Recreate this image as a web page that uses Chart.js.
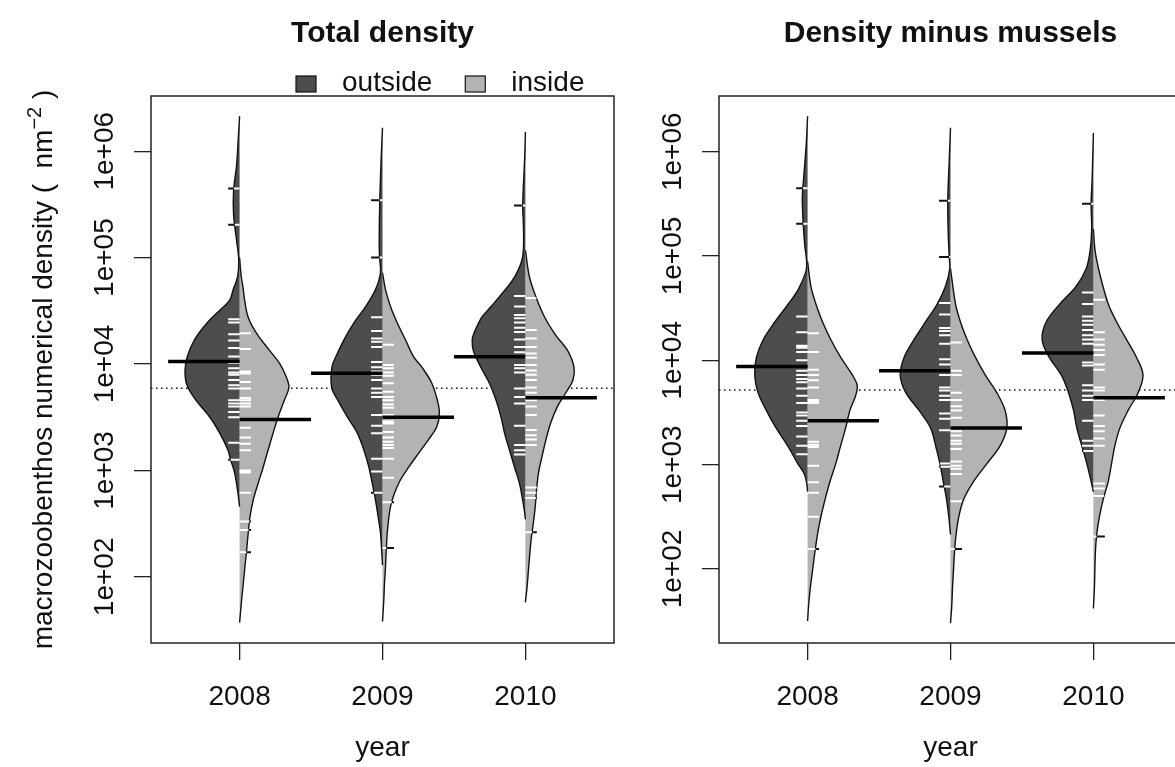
<!DOCTYPE html>
<html>
<head>
<meta charset="utf-8">
<script src="https://cdn.jsdelivr.net/npm/chart.js@4.4.1/dist/chart.umd.min.js"></script>
<style>
  html, body { margin: 0; padding: 0; background: #fff; overflow: hidden; }
  body { width: 1175px; height: 767px; position: relative; }
  canvas { position: absolute; top: 0; }
  #totalChart { left: 0; }
  #musselChart { left: 568px; }
</style>
</head>
<body>
<canvas id="totalChart" width="640" height="767"></canvas>
<canvas id="musselChart" width="640" height="767"></canvas>
<script>
const years = ['2008', '2009', '2010'];
const yTickValues = [1e2, 1e3, 1e4, 1e5, 1e6];
const yTickLabels = ['1e+02', '1e+03', '1e+04', '1e+05', '1e+06'];
const groups = ['outside', 'inside'];
const groupColors = ['#4d4d4d', '#b3b3b3'];

// ---- Total density ----
// bean outlines: log10(density) levels with the half-width of the bean there (x units)
const totOutLevels = [
  [6.33, 6.10, 5.87, 5.63, 5.40, 5.16, 4.98, 4.82, 4.70, 4.60, 4.51, 4.39, 4.23, 4.07, 3.94, 3.80, 3.66, 3.50, 3.35, 3.19, 3.10, 2.98, 2.79, 2.66],
  [6.22, 5.94, 5.54, 5.16, 5.01, 4.86, 4.70, 4.54, 4.39, 4.23, 4.07, 3.97, 3.78, 3.66, 3.50, 3.35, 3.19, 3.03, 2.88, 2.72, 2.56, 2.41, 2.16, 2.11],
  [6.18, 5.94, 5.49, 5.32, 5.07, 4.95, 4.82, 4.70, 4.54, 4.44, 4.29, 4.23, 4.13, 3.97, 3.82, 3.66, 3.50, 3.35, 3.19, 3.03, 2.88, 2.72, 2.60, 2.54]
];
const totOutWidths = [
  [0, .010, .021, .042, .042, .021, .006, .014, .045, .069, .135, .225, .315, .366, .382, .368, .306, .208, .139, .081, .063, .035, .012, 0],
  [0, .009, .019, .023, .021, .014, .049, .118, .199, .269, .326, .354, .356, .313, .245, .176, .130, .095, .072, .049, .030, .014, .002, 0],
  [0, .005, .019, .014, .014, .030, .075, .140, .240, .305, .360, .372, .365, .312, .252, .205, .170, .146, .111, .076, .042, .019, .005, 0]
];
const totInLevels = [
  [5.00, 4.84, 4.70, 4.60, 4.44, 4.29, 4.13, 4.01, 3.88, 3.78, 3.66, 3.50, 3.35, 3.19, 3.03, 2.88, 2.72, 2.56, 2.41, 2.25, 2.09, 1.94, 1.78, 1.57],
  [4.86, 4.70, 4.54, 4.39, 4.23, 4.07, 3.97, 3.82, 3.66, 3.54, 3.41, 3.29, 3.16, 3.03, 2.91, 2.79, 2.66, 2.47, 2.25, 2.09, 1.94, 1.78, 1.58],
  [5.07, 4.82, 4.63, 4.44, 4.27, 4.13, 3.97, 3.85, 3.73, 3.60, 3.45, 3.29, 3.13, 2.98, 2.82, 2.66, 2.51, 2.35, 2.09, 1.91, 1.76]
];
const totInWidths = [
  [0, .010, .026, .035, .060, .118, .208, .278, .326, .345, .313, .269, .234, .199, .165, .130, .095, .072, .060, .049, .037, .026, .014, 0],
  [0, .021, .056, .102, .160, .217, .276, .345, .384, .398, .380, .322, .252, .183, .125, .085, .056, .037, .026, .021, .014, .009, 0],
  [0, .028, .074, .135, .213, .294, .340, .333, .283, .224, .178, .144, .116, .092, .078, .069, .056, .040, .023, .012, 0]
];
// single samples, log10(density)
const totOutObs = [
  [5.65, 5.31, 4.42, 4.39, 4.28, 4.22, 4.15, 4.07, 4.01, 3.96, 3.92, 3.90, 3.85, 3.80, 3.77, 3.66, 3.63, 3.60, 3.55, 3.50, 3.26, 3.10],
  [5.54, 5.00, 4.44, 4.31, 4.24, 4.21, 4.16, 4.02, 3.97, 3.93, 3.90, 3.85, 3.77, 3.73, 3.69, 3.52, 3.42, 3.35, 3.11, 2.99, 2.79],
  [5.49, 4.64, 4.54, 4.46, 4.43, 4.39, 4.34, 4.30, 4.23, 4.16, 4.11, 4.07, 3.99, 3.96, 3.92, 3.77, 3.69, 3.63, 3.42, 3.24, 3.19, 3.15]
];
const totInObs = [
  [4.29, 4.14, 3.93, 3.91, 3.83, 3.77, 3.68, 3.66, 3.63, 3.60, 3.40, 3.31, 3.25, 3.19, 3.00, 2.98, 2.79, 2.52, 2.44, 2.23],
  [4.18, 3.99, 3.96, 3.92, 3.89, 3.82, 3.74, 3.69, 3.66, 3.62, 3.59, 3.52, 3.46, 3.44, 3.36, 3.31, 3.27, 3.24, 3.21, 3.11, 2.93, 2.70, 2.27],
  [4.62, 4.32, 4.24, 4.16, 4.10, 4.06, 3.99, 3.94, 3.90, 3.85, 3.78, 3.73, 3.66, 3.60, 3.52, 3.38, 3.33, 3.29, 3.24, 2.84, 2.79, 2.74, 2.42]
];
const totOutMean = [10550, 8180, 11700];
const totInMean = [3010, 3160, 4830];
const totOverall = 5920;
const totRange = [10 ** 1.378, 10 ** 6.519];

// ---- Density minus mussels ----
const musOutLevels = [
  [6.34, 6.08, 5.74, 5.56, 5.29, 5.09, 4.95, 4.85, 4.68, 4.54, 4.37, 4.20, 4.03, 3.86, 3.69, 3.52, 3.35, 3.18, 3.01, 2.91, 2.81, 2.74],
  [6.23, 5.91, 5.53, 5.22, 4.99, 4.88, 4.71, 4.54, 4.37, 4.20, 4.03, 3.86, 3.69, 3.52, 3.35, 3.18, 3.01, 2.84, 2.67, 2.50, 2.33],
  [6.18, 5.73, 5.50, 5.26, 5.05, 4.88, 4.71, 4.54, 4.37, 4.20, 4.03, 3.86, 3.69, 3.52, 3.35, 3.18, 3.01, 2.84, 2.74]
];
const musOutWidths = [
  [0, .009, .028, .037, .030, .019, .007, .012, .065, .135, .228, .310, .358, .370, .347, .289, .220, .139, .069, .023, .005, 0],
  [0, .009, .019, .016, .009, .005, .035, .093, .174, .255, .324, .352, .313, .220, .139, .104, .074, .051, .028, .012, 0],
  [0, .009, .016, .012, .023, .050, .120, .235, .330, .359, .310, .225, .174, .139, .116, .081, .046, .016, 0]
];
const musInLevels = [
  [4.95, 4.71, 4.54, 4.37, 4.20, 4.03, 3.86, 3.76, 3.66, 3.52, 3.35, 3.18, 3.01, 2.84, 2.67, 2.50, 2.33, 2.16, 1.99, 1.82, 1.65, 1.50],
  [4.88, 4.54, 4.37, 4.20, 4.03, 3.86, 3.69, 3.52, 3.35, 3.18, 3.01, 2.84, 2.67, 2.50, 2.33, 2.16, 1.99, 1.82, 1.65, 1.48],
  [5.26, 5.05, 4.82, 4.54, 4.37, 4.20, 4.03, 3.86, 3.69, 3.52, 3.35, 3.18, 3.01, 2.84, 2.67, 2.50, 2.33, 2.16, 1.82, 1.62]
];
const musInWidths = [
  [0, .023, .058, .104, .162, .231, .313, .347, .336, .296, .266, .231, .197, .157, .123, .093, .069, .051, .035, .019, .007, 0],
  [0, .035, .069, .116, .174, .243, .324, .382, .394, .347, .255, .162, .093, .058, .039, .028, .021, .014, .009, 0],
  [0, .012, .046, .104, .162, .231, .301, .347, .313, .243, .185, .150, .127, .104, .069, .042, .023, .014, .007, 0]
];
const musOutObs = [
  [5.65, 5.31, 4.42, 4.27, 4.14, 4.12, 4.08, 4.00, 3.90, 3.86, 3.82, 3.79, 3.73, 3.66, 3.59, 3.50, 3.47, 3.42, 3.37, 3.27, 3.18, 3.10],
  [5.53, 4.99, 4.55, 4.44, 4.31, 4.28, 4.24, 4.16, 4.01, 3.96, 3.90, 3.86, 3.74, 3.71, 3.66, 3.62, 3.49, 3.44, 3.33, 3.01, 2.98, 2.79],
  [5.50, 4.65, 4.54, 4.42, 4.38, 4.34, 4.29, 4.24, 4.20, 4.16, 3.98, 3.95, 3.76, 3.71, 3.66, 3.62, 3.42, 3.23, 3.18, 3.13]
];
const musInObs = [
  [4.26, 4.08, 3.91, 3.86, 3.81, 3.74, 3.62, 3.61, 3.59, 3.42, 3.22, 3.19, 3.17, 2.99, 2.83, 2.73, 2.50, 2.19],
  [4.17, 3.90, 3.86, 3.69, 3.62, 3.56, 3.52, 3.45, 3.32, 3.28, 3.23, 3.20, 3.15, 3.03, 2.99, 2.96, 2.91, 2.65, 2.19],
  [4.58, 4.27, 4.20, 4.15, 4.10, 4.05, 3.96, 3.91, 3.74, 3.71, 3.62, 3.47, 3.37, 3.32, 3.25, 3.18, 2.82, 2.77, 2.70, 2.31]
];
const musOutMean = [8710, 7940, 11750];
const musInMean = [2630, 2240, 4370];
const musOverall = 5200;
const musRange = [10 ** 1.29, 10 ** 6.534];

const X_MIN = 0.38, X_MAX = 3.62;
const LINE_LEN = 0.08;   // length of one sample line (x units)
const MEAN_LEN = 0.5;    // length of a group mean line
const FONT = '"Liberation Sans", Arial, sans-serif';

Chart.defaults.font.family = FONT;
Chart.defaults.color = '#111';

// bean half-width at a given log level, straight interpolation between outline points
function widthAt(levels, widths, v) {
  for (let i = 0; i < levels.length - 1; i++) {
    const a = levels[i], b = levels[i + 1];
    if ((v - a) * (v - b) <= 0) {
      const t = a === b ? 0 : (v - a) / (b - a);
      return widths[i] + t * (widths[i + 1] - widths[i]);
    }
  }
  return 0;
}

// side: -1 draws the left half of each bean, +1 the right half
function halfBeans(levels, widths, side, color) {
  return levels.map((lv, k) => ({
    data: lv.map((v, i) => ({ x: k + 1 + side * widths[k][i], y: 10 ** v })),
    backgroundColor: color,
    borderColor: '#111',
    borderWidth: 1.4,
    fill: { value: k + 1 },
    tension: 0.35,
    pointRadius: 0,
    order: 4
  }));
}

// white sample lines inside the bean, black where they stick out of it
function sampleLines(levels, widths, obs, side) {
  const inner = [], outer = [];
  obs.forEach((list, k) => {
    const c = k + 1;
    list.forEach(v => {
      const y = 10 ** v;
      const w = widthAt(levels[k], widths[k], v);
      inner.push({ x: c, y }, { x: c + side * Math.min(w, LINE_LEN), y }, { x: null, y });
      if (w < LINE_LEN) {
        outer.push({ x: c + side * w, y }, { x: c + side * LINE_LEN, y }, { x: null, y });
      }
    });
  });
  return [
    { data: inner, borderColor: '#ffffff', borderWidth: 2, pointRadius: 0, fill: false, order: 2 },
    { data: outer, borderColor: '#111', borderWidth: 2, pointRadius: 0, fill: false, order: 2 }
  ];
}

function meanLines(means, side) {
  const pts = [];
  means.forEach((m, k) => {
    pts.push({ x: k + 1, y: m }, { x: k + 1 + side * MEAN_LEN, y: m }, { x: null, y: m });
  });
  return { data: pts, borderColor: '#000', borderWidth: 3.5, pointRadius: 0, fill: false, order: 1 };
}

function overallLine(value) {
  return {
    data: [{ x: X_MIN, y: value }, { x: X_MAX, y: value }],
    borderColor: '#111', borderWidth: 1.6, borderDash: [1.5, 3.5],
    pointRadius: 0, fill: false, order: 6
  };
}

// box, rotated y labels, titles and legend in the R base-graphics style
const frame = {
  id: 'frame',
  afterDraw(chart, args, opts) {
    const { ctx, chartArea: a } = chart;
    const y = chart.scales.y;
    ctx.save();
    ctx.strokeStyle = '#222';
    ctx.lineWidth = 1.5;
    ctx.strokeRect(a.left, a.top, a.right - a.left, a.bottom - a.top);

    ctx.fillStyle = '#111';
    ctx.font = '28px ' + FONT;
    ctx.textAlign = 'center';
    ctx.textBaseline = 'alphabetic';
    yTickValues.forEach((v, i) => {
      ctx.save();
      ctx.translate(a.left - 38, y.getPixelForValue(v));
      ctx.rotate(-Math.PI / 2);
      ctx.fillText(yTickLabels[i], 0, 0);
      ctx.restore();
    });

    ctx.font = 'bold 30px ' + FONT;
    ctx.fillText(opts.title, (a.left + a.right) / 2, 42);

    if (opts.yTitle) {
      const main = 'macrozoobenthos numerical density (  nm';
      const sup = '\u22122';
      const tail = ' )';
      ctx.font = '28px ' + FONT;
      const w1 = ctx.measureText(main).width;
      const w3 = ctx.measureText(tail).width;
      ctx.font = '20px ' + FONT;
      const w2 = ctx.measureText(sup).width;
      const total = w1 + w2 + w3;
      ctx.save();
      ctx.translate(52, (a.top + a.bottom) / 2);
      ctx.rotate(-Math.PI / 2);
      ctx.textAlign = 'left';
      let x = -total / 2;
      ctx.font = '28px ' + FONT;
      ctx.fillText(main, x, 0);
      x += w1;
      ctx.font = '20px ' + FONT;
      ctx.fillText(sup, x, -11);
      x += w2;
      ctx.font = '28px ' + FONT;
      ctx.fillText(tail, x, 0);
      ctx.restore();
    }

    if (opts.legend) {
      ctx.font = '28px ' + FONT;
      ctx.textAlign = 'left';
      let x = 296;
      groups.forEach((g, i) => {
        ctx.fillStyle = groupColors[i];
        ctx.fillRect(x, 76, 20, 16);
        ctx.strokeStyle = '#111';
        ctx.lineWidth = 1.2;
        ctx.strokeRect(x, 76, 20, 16);
        ctx.fillStyle = '#111';
        ctx.fillText(g, x + 46, 91);
        x += 46 + ctx.measureText(g).width + 33;
      });
    }
    ctx.restore();
  }
};

function makeChart(id, p) {
  const datasets = [
    overallLine(p.overall),
    ...halfBeans(p.outLevels, p.outWidths, -1, groupColors[0]),
    ...halfBeans(p.inLevels, p.inWidths, 1, groupColors[1]),
    ...sampleLines(p.outLevels, p.outWidths, p.outObs, -1),
    ...sampleLines(p.inLevels, p.inWidths, p.inObs, 1),
    meanLines(p.outMean, -1),
    meanLines(p.inMean, 1)
  ];
  return new Chart(document.getElementById(id), {
    type: 'line',
    data: { datasets },
    options: {
      responsive: false,
      animation: false,
      devicePixelRatio: 1,
      indexAxis: 'y',
      events: [],
      layout: { padding: { left: 0, top: 96, right: 26, bottom: 0 } },
      plugins: {
        legend: { display: false },
        tooltip: { enabled: false },
        frame: { title: p.title, yTitle: p.yTitle, legend: p.legend }
      },
      scales: {
        x: {
          type: 'linear',
          min: X_MIN,
          max: X_MAX,
          afterBuildTicks: s => { s.ticks = years.map((_, i) => ({ value: i + 1 })); },
          afterFit: s => { s.height = 124; },
          ticks: {
            callback: v => years[v - 1],
            font: { size: 28 },
            color: '#111',
            padding: 20,
            maxRotation: 0,
            autoSkip: false
          },
          grid: { drawOnChartArea: false, tickLength: 17, color: '#222', lineWidth: 1.3 },
          border: { display: false },
          title: {
            display: true,
            text: 'year',
            font: { size: 28 },
            color: '#111',
            padding: { top: 0, bottom: 2 }
          }
        },
        y: {
          type: 'logarithmic',
          min: p.range[0],
          max: p.range[1],
          afterBuildTicks: s => { s.ticks = yTickValues.map(v => ({ value: v })); },
          afterFit: s => { s.width = 151; },
          ticks: { display: false },
          grid: { drawOnChartArea: false, tickLength: 17, color: '#222', lineWidth: 1.3 },
          border: { display: false }
        }
      }
    },
    plugins: [frame]
  });
}

makeChart('totalChart', {
  title: 'Total density', yTitle: true, legend: true,
  outLevels: totOutLevels, outWidths: totOutWidths,
  inLevels: totInLevels, inWidths: totInWidths,
  outObs: totOutObs, inObs: totInObs,
  outMean: totOutMean, inMean: totInMean,
  overall: totOverall, range: totRange
});

makeChart('musselChart', {
  title: 'Density minus mussels', yTitle: false, legend: false,
  outLevels: musOutLevels, outWidths: musOutWidths,
  inLevels: musInLevels, inWidths: musInWidths,
  outObs: musOutObs, inObs: musInObs,
  outMean: musOutMean, inMean: musInMean,
  overall: musOverall, range: musRange
});
</script>
</body>
</html>
